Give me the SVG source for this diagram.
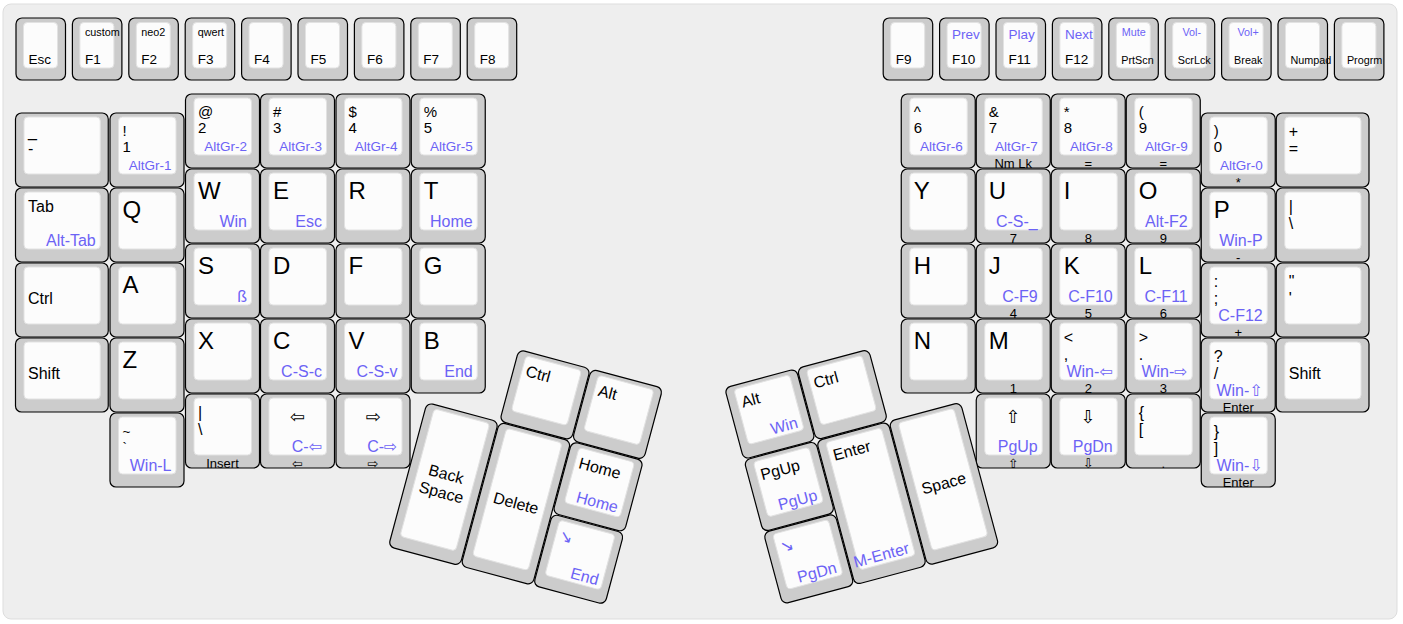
<svg xmlns="http://www.w3.org/2000/svg" width="1403" height="624" viewBox="0 0 1403 624">
<style>
.ko{fill:#cccccc;stroke:#000;stroke-width:1.2}
.ki{fill:#fcfcfc;stroke:#e2e2e2;stroke-width:1}
.l{font-family:"Liberation Sans","DejaVu Sans",sans-serif;fill:#000}
.bl{fill:#6c63f5}
.xs{font-size:10.8px}
.sm{font-size:13.5px}
.nm{font-size:15px}
.fr{font-size:13px;text-anchor:middle}
.md{font-size:16px}
.lg{font-size:24px}
.ar{font-size:18px;text-anchor:middle}
.e{text-anchor:end}
.m{text-anchor:middle}
</style>
<defs>
<g id="kF"><rect class="ko" x="0.5" y="0.5" width="49.5" height="62" rx="6"/><rect class="ki" x="8" y="5" width="34" height="45.5" rx="4"/></g>
<g id="k1"><rect class="ko" x="0.5" y="0.5" width="74" height="74" rx="6"/><rect class="ki" x="9" y="4.5" width="57.5" height="57" rx="4"/></g>
<g id="k125"><rect class="ko" x="0.5" y="0.5" width="92.75" height="74" rx="6"/><rect class="ki" x="9" y="4.5" width="76.25" height="57" rx="4"/></g>
<g id="k2v"><rect class="ko" x="0.5" y="0.5" width="74" height="149" rx="6"/><rect class="ki" x="9" y="4.5" width="57.5" height="132" rx="4"/></g>
</defs>
<rect x="3" y="4" width="1394" height="615" rx="8" fill="#eeeeee" stroke="#dddddd" stroke-width="1"/>
<g id="connectors"/>

<!-- Function row left -->
<g id="key-esc" transform="translate(15.5,17.5)"><use href="#kF"/><text class="l sm" x="13" y="46.5">Esc</text></g>
<g id="key-f1" transform="translate(71.9,17.5)"><use href="#kF"/><text class="l xs" x="13" y="18">custom</text><text class="l sm" x="13" y="46.5">F1</text></g>
<g id="key-f2" transform="translate(128.3,17.5)"><use href="#kF"/><text class="l xs" x="13" y="18">neo2</text><text class="l sm" x="13" y="46.5">F2</text></g>
<g id="key-f3" transform="translate(184.7,17.5)"><use href="#kF"/><text class="l xs" x="13" y="18">qwert</text><text class="l sm" x="13" y="46.5">F3</text></g>
<g id="key-f4" transform="translate(241.1,17.5)"><use href="#kF"/><text class="l sm" x="13" y="46.5">F4</text></g>
<g id="key-f5" transform="translate(297.5,17.5)"><use href="#kF"/><text class="l sm" x="13" y="46.5">F5</text></g>
<g id="key-f6" transform="translate(353.9,17.5)"><use href="#kF"/><text class="l sm" x="13" y="46.5">F6</text></g>
<g id="key-f7" transform="translate(410.3,17.5)"><use href="#kF"/><text class="l sm" x="13" y="46.5">F7</text></g>
<g id="key-f8" transform="translate(466.7,17.5)"><use href="#kF"/><text class="l sm" x="13" y="46.5">F8</text></g>

<!-- Function row right -->
<g id="key-f9" transform="translate(882.7,17.5)"><use href="#kF"/><text class="l sm" x="13" y="46.5">F9</text></g>
<g id="key-f10" transform="translate(939.1,17.5)"><use href="#kF"/><text class="l sm bl" x="13" y="21">Prev</text><text class="l sm" x="13" y="46.5">F10</text></g>
<g id="key-f11" transform="translate(995.5,17.5)"><use href="#kF"/><text class="l sm bl" x="13" y="21">Play</text><text class="l sm" x="13" y="46.5">F11</text></g>
<g id="key-f12" transform="translate(1051.9,17.5)"><use href="#kF"/><text class="l sm bl" x="13" y="21">Next</text><text class="l sm" x="13" y="46.5">F12</text></g>
<g id="key-prtscn" transform="translate(1108.3,17.5)"><use href="#kF"/><text class="l xs bl m" x="25.5" y="18.2">Mute</text><text class="l xs" x="13" y="46.5">PrtScn</text></g>
<g id="key-scrlck" transform="translate(1164.7,17.5)"><use href="#kF"/><text class="l xs bl m" x="27" y="18.2">Vol-</text><text class="l xs" x="13" y="46.5">ScrLck</text></g>
<g id="key-break" transform="translate(1221.1,17.5)"><use href="#kF"/><text class="l xs bl m" x="27" y="18.2">Vol+</text><text class="l xs" x="13" y="46.5">Break</text></g>
<g id="key-numpad" transform="translate(1277.5,17.5)"><use href="#kF"/><text class="l xs" x="13" y="46.5">Numpad</text></g>
<g id="key-progrm" transform="translate(1333.9,17.5)"><use href="#kF"/><text class="l xs" x="13" y="46.5">Progrm</text></g>

<!-- Left main block -->
<g id="key-underscore" transform="translate(15,112.5)"><use href="#k125"/><text class="l md" x="13" y="24.5">_</text><text class="l md" x="13" y="41">-</text></g>
<g id="key-1" transform="translate(109.5,112.5)"><use href="#k1"/><text class="l nm" x="13" y="23.5">!</text><text class="l nm" x="13" y="39.5">1</text><text class="l sm bl e" x="62" y="57">AltGr-1</text></g>
<g id="key-2" transform="translate(185,93.5)"><use href="#k1"/><text class="l nm" x="13" y="23.5">@</text><text class="l nm" x="13" y="39.5">2</text><text class="l sm bl e" x="62" y="57">AltGr-2</text></g>
<g id="key-3" transform="translate(260,93.5)"><use href="#k1"/><text class="l nm" x="13" y="23.5">#</text><text class="l nm" x="13" y="39.5">3</text><text class="l sm bl e" x="62" y="57">AltGr-3</text></g>
<g id="key-4" transform="translate(335.5,93.5)"><use href="#k1"/><text class="l nm" x="13" y="23.5">$</text><text class="l nm" x="13" y="39.5">4</text><text class="l sm bl e" x="62" y="57">AltGr-4</text></g>
<g id="key-5" transform="translate(410.75,93.5)"><use href="#k1"/><text class="l nm" x="13" y="23.5">%</text><text class="l nm" x="13" y="39.5">5</text><text class="l sm bl e" x="62" y="57">AltGr-5</text></g>

<g id="key-tab" transform="translate(15,187.5)"><use href="#k125"/><text class="l md" x="13" y="24.5">Tab</text><text class="l md bl e" x="80.75" y="58">Alt-Tab</text></g>
<g id="key-q" transform="translate(109.5,187.5)"><use href="#k1"/><text class="l lg" x="13" y="30.5">Q</text></g>
<g id="key-w" transform="translate(185,168.5)"><use href="#k1"/><text class="l lg" x="13" y="30.5">W</text><text class="l md bl e" x="62" y="58">Win</text></g>
<g id="key-e" transform="translate(260,168.5)"><use href="#k1"/><text class="l lg" x="13" y="30.5">E</text><text class="l md bl e" x="62" y="58">Esc</text></g>
<g id="key-r" transform="translate(335.5,168.5)"><use href="#k1"/><text class="l lg" x="13" y="30.5">R</text></g>
<g id="key-t" transform="translate(410.75,168.5)"><use href="#k1"/><text class="l lg" x="13" y="30.5">T</text><text class="l md bl e" x="62" y="58">Home</text></g>

<g id="key-lctrl" transform="translate(15,262.5)"><use href="#k125"/><text class="l md" x="13" y="41">Ctrl</text></g>
<g id="key-a" transform="translate(109.5,262.5)"><use href="#k1"/><text class="l lg" x="13" y="30.5">A</text></g>
<g id="key-s" transform="translate(185,243.5)"><use href="#k1"/><text class="l lg" x="13" y="30.5">S</text><text class="l md bl e" x="62" y="58">ß</text></g>
<g id="key-d" transform="translate(260,243.5)"><use href="#k1"/><text class="l lg" x="13" y="30.5">D</text></g>
<g id="key-f" transform="translate(335.5,243.5)"><use href="#k1"/><text class="l lg" x="13" y="30.5">F</text></g>
<g id="key-g" transform="translate(410.75,243.5)"><use href="#k1"/><text class="l lg" x="13" y="30.5">G</text></g>

<g id="key-lshift" transform="translate(15,337.5)"><use href="#k125"/><text class="l md" x="13" y="41">Shift</text></g>
<g id="key-z" transform="translate(109.5,337.5)"><use href="#k1"/><text class="l lg" x="13" y="30.5">Z</text></g>
<g id="key-x" transform="translate(185,318.5)"><use href="#k1"/><text class="l lg" x="13" y="30.5">X</text></g>
<g id="key-c" transform="translate(260,318.5)"><use href="#k1"/><text class="l lg" x="13" y="30.5">C</text><text class="l md bl e" x="62" y="58">C-S-c</text></g>
<g id="key-v" transform="translate(335.5,318.5)"><use href="#k1"/><text class="l lg" x="13" y="30.5">V</text><text class="l md bl e" x="62" y="58">C-S-v</text></g>
<g id="key-b" transform="translate(410.75,318.5)"><use href="#k1"/><text class="l lg" x="13" y="30.5">B</text><text class="l md bl e" x="62" y="58">End</text></g>

<g id="key-tilde" transform="translate(109.5,412.5)"><use href="#k1"/><text class="l sm" x="13" y="23.5">~</text><text class="l sm" x="13" y="39.5">`</text><text class="l md bl e" x="62" y="58">Win-L</text></g>
<g id="key-pipe" transform="translate(185,393.5)"><use href="#k1"/><text class="l md" x="13" y="24.5">|</text><text class="l md" x="13" y="41">\</text><text class="l fr" x="37.5" y="74">Insert</text></g>
<g id="key-left" transform="translate(260,393.5)"><use href="#k1"/><text class="l ar" x="37.5" y="29">⇦</text><text class="l md bl e" x="62" y="58">C-⇦</text><text class="l fr" x="37.5" y="74">⇦</text></g>
<g id="key-right" transform="translate(335.5,393.5)"><use href="#k1"/><text class="l ar" x="37.5" y="29">⇨</text><text class="l md bl e" x="62" y="58">C-⇨</text><text class="l fr" x="37.5" y="74">⇨</text></g>

<!-- Right main block -->
<g id="key-6" transform="translate(900.75,93.5)"><use href="#k1"/><text class="l nm" x="13" y="23.5">^</text><text class="l nm" x="13" y="39.5">6</text><text class="l sm bl e" x="62" y="57">AltGr-6</text></g>
<g id="key-7" transform="translate(975.75,93.5)"><use href="#k1"/><text class="l nm" x="13" y="23.5">&amp;</text><text class="l nm" x="13" y="39.5">7</text><text class="l sm bl e" x="62" y="57">AltGr-7</text><text class="l fr" x="37.5" y="74">Nm Lk</text></g>
<g id="key-8" transform="translate(1050.75,93.5)"><use href="#k1"/><text class="l nm" x="13" y="23.5">*</text><text class="l nm" x="13" y="39.5">8</text><text class="l sm bl e" x="62" y="57">AltGr-8</text><text class="l fr" x="37.5" y="74">=</text></g>
<g id="key-9" transform="translate(1125.75,93.5)"><use href="#k1"/><text class="l nm" x="13" y="23.5">(</text><text class="l nm" x="13" y="39.5">9</text><text class="l sm bl e" x="62" y="57">AltGr-9</text><text class="l fr" x="37.5" y="74">=</text></g>
<g id="key-0" transform="translate(1200.75,112.5)"><use href="#k1"/><text class="l nm" x="13" y="23.5">)</text><text class="l nm" x="13" y="39.5">0</text><text class="l sm bl e" x="62" y="57">AltGr-0</text><text class="l fr" x="37.5" y="74">*</text></g>
<g id="key-plus" transform="translate(1275.75,112.5)"><use href="#k125"/><text class="l md" x="13" y="24.5">+</text><text class="l md" x="13" y="41">=</text></g>

<g id="key-y" transform="translate(900.75,168.5)"><use href="#k1"/><text class="l lg" x="13" y="30.5">Y</text></g>
<g id="key-u" transform="translate(975.75,168.5)"><use href="#k1"/><text class="l lg" x="13" y="30.5">U</text><text class="l md bl e" x="62" y="58">C-S-_</text><text class="l fr" x="37.5" y="74">7</text></g>
<g id="key-i" transform="translate(1050.75,168.5)"><use href="#k1"/><text class="l lg" x="13" y="30.5">I</text><text class="l fr" x="37.5" y="74">8</text></g>
<g id="key-o" transform="translate(1125.75,168.5)"><use href="#k1"/><text class="l lg" x="13" y="30.5">O</text><text class="l md bl e" x="62" y="58">Alt-F2</text><text class="l fr" x="37.5" y="74">9</text></g>
<g id="key-p" transform="translate(1200.75,187.5)"><use href="#k1"/><text class="l lg" x="13" y="30.5">P</text><text class="l md bl e" x="62" y="58">Win-P</text><text class="l fr" x="37.5" y="74">-</text></g>
<g id="key-backslash" transform="translate(1275.75,187.5)"><use href="#k125"/><text class="l md" x="13" y="24.5">|</text><text class="l md" x="13" y="41">\</text></g>

<g id="key-h" transform="translate(900.75,243.5)"><use href="#k1"/><text class="l lg" x="13" y="30.5">H</text></g>
<g id="key-j" transform="translate(975.75,243.5)"><use href="#k1"/><text class="l lg" x="13" y="30.5">J</text><text class="l md bl e" x="62" y="58">C-F9</text><text class="l fr" x="37.5" y="74">4</text></g>
<g id="key-k" transform="translate(1050.75,243.5)"><use href="#k1"/><text class="l lg" x="13" y="30.5">K</text><text class="l md bl e" x="62" y="58">C-F10</text><text class="l fr" x="37.5" y="74">5</text></g>
<g id="key-l" transform="translate(1125.75,243.5)"><use href="#k1"/><text class="l lg" x="13" y="30.5">L</text><text class="l md bl e" x="62" y="58">C-F11</text><text class="l fr" x="37.5" y="74">6</text></g>
<g id="key-semicolon" transform="translate(1200.75,262.5)"><use href="#k1"/><text class="l md" x="13" y="24.5">:</text><text class="l md" x="13" y="41">;</text><text class="l md bl e" x="62" y="58">C-F12</text><text class="l fr" x="37.5" y="74">+</text></g>
<g id="key-quote" transform="translate(1275.75,262.5)"><use href="#k125"/><text class="l md" x="13" y="24.5">"</text><text class="l md" x="13" y="41">'</text></g>

<g id="key-n" transform="translate(900.75,318.5)"><use href="#k1"/><text class="l lg" x="13" y="30.5">N</text></g>
<g id="key-m" transform="translate(975.75,318.5)"><use href="#k1"/><text class="l lg" x="13" y="30.5">M</text><text class="l fr" x="37.5" y="74">1</text></g>
<g id="key-comma" transform="translate(1050.75,318.5)"><use href="#k1"/><text class="l md" x="13" y="24.5">&lt;</text><text class="l md" x="13" y="41">,</text><text class="l md bl e" x="62" y="58">Win-⇦</text><text class="l fr" x="37.5" y="74">2</text></g>
<g id="key-period" transform="translate(1125.75,318.5)"><use href="#k1"/><text class="l md" x="13" y="24.5">&gt;</text><text class="l md" x="13" y="41">.</text><text class="l md bl e" x="62" y="58">Win-⇨</text><text class="l fr" x="37.5" y="74">3</text></g>
<g id="key-slash" transform="translate(1200.75,337.5)"><use href="#k1"/><text class="l md" x="13" y="24.5">?</text><text class="l md" x="13" y="41">/</text><text class="l md bl e" x="62" y="58">Win-⇧</text><text class="l fr" x="37.5" y="74">Enter</text></g>
<g id="key-rshift" transform="translate(1275.75,337.5)"><use href="#k125"/><text class="l md" x="13" y="41">Shift</text></g>

<g id="key-up" transform="translate(975.75,393.5)"><use href="#k1"/><text class="l ar" x="37.5" y="29">⇧</text><text class="l md bl e" x="62" y="58">PgUp</text><text class="l fr" x="37.5" y="74">⇧</text></g>
<g id="key-down" transform="translate(1050.75,393.5)"><use href="#k1"/><text class="l ar" x="37.5" y="29">⇩</text><text class="l md bl e" x="62" y="58">PgDn</text><text class="l fr" x="37.5" y="74">⇩</text></g>
<g id="key-lbracket" transform="translate(1125.75,393.5)"><use href="#k1"/><text class="l md" x="13" y="24.5">{</text><text class="l md" x="13" y="41">[</text><text class="l fr" x="37.5" y="74">.</text></g>
<g id="key-rbracket" transform="translate(1200.75,412.5)"><use href="#k1"/><text class="l md" x="13" y="24.5">}</text><text class="l md" x="13" y="41">]</text><text class="l md bl e" x="62" y="58">Win-⇩</text><text class="l fr" x="37.5" y="74">Enter</text></g>

<!-- Left thumb cluster -->
<g id="thumb-left" transform="translate(518.5,349) rotate(15)">
<g id="key-tl-ctrl"><use href="#k1"/><text class="l md" x="13" y="24.5">Ctrl</text></g>
<g id="key-tl-alt" transform="translate(75,0)"><use href="#k1"/><text class="l md" x="13" y="24.5">Alt</text></g>
<g id="key-tl-backspace" transform="translate(-75,75)"><use href="#k2v"/><text class="l md m" x="37.5" y="70">Back</text><text class="l md m" x="37.5" y="89">Space</text></g>
<g id="key-tl-delete" transform="translate(0,75)"><use href="#k2v"/><text class="l md m" x="37.5" y="80">Delete</text></g>
<g id="key-tl-home" transform="translate(75,75)"><use href="#k1"/><text class="l md" x="13" y="24.5">Home</text><text class="l md bl e" x="62" y="58">Home</text></g>
<g id="key-tl-end" transform="translate(75,150)"><use href="#k1"/><text class="l md bl" x="13" y="24.5">↘</text><text class="l md bl e" x="62" y="58">End</text></g>
</g>

<!-- Right thumb cluster -->
<g id="thumb-right" transform="translate(724,387.5) rotate(-15)">
<g id="key-tr-alt"><use href="#k1"/><text class="l md" x="13" y="24.5">Alt</text><text class="l md bl e" x="62" y="58">Win</text></g>
<g id="key-tr-ctrl" transform="translate(75,0)"><use href="#k1"/><text class="l md" x="13" y="24.5">Ctrl</text></g>
<g id="key-tr-pgup" transform="translate(0,75)"><use href="#k1"/><text class="l md" x="13" y="24.5">PgUp</text><text class="l md bl e" x="62" y="58">PgUp</text></g>
<g id="key-tr-enter" transform="translate(75,75)"><use href="#k2v"/><text class="l md" x="13" y="24.5">Enter</text><text class="l md bl e" x="62" y="133">M-Enter</text></g>
<g id="key-tr-space" transform="translate(150,75)"><use href="#k2v"/><text class="l md m" x="37.5" y="80">Space</text></g>
<g id="key-tr-pgdn" transform="translate(0,150)"><use href="#k1"/><text class="l md bl" x="13" y="24.5">↘</text><text class="l md bl e" x="62" y="58">PgDn</text></g>
</g>
</svg>
